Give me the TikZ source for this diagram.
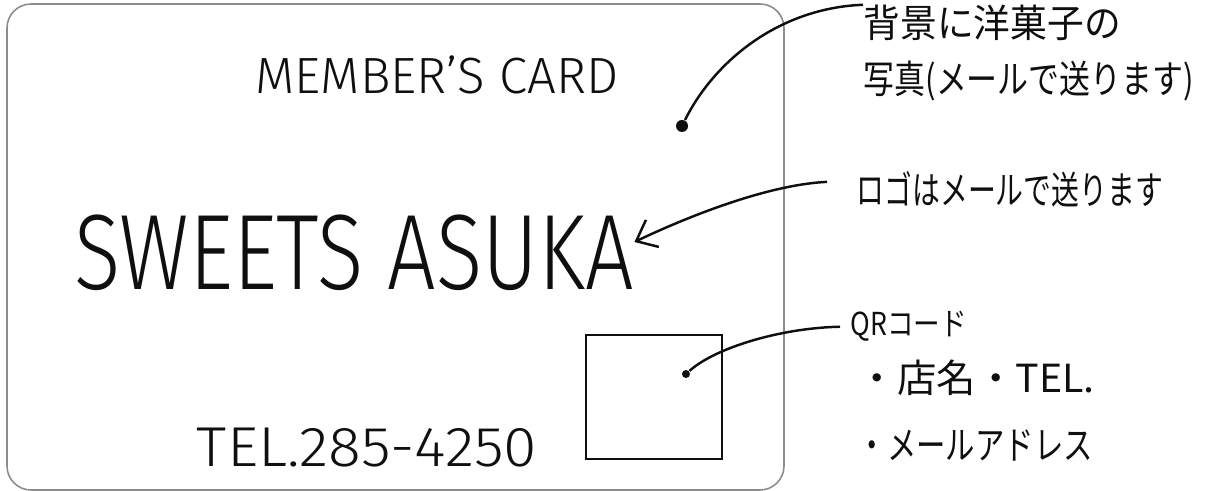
\documentclass[tikz,border=0pt]{standalone}
\usepackage{fontspec}
\usepackage{tikz}
\usetikzlibrary{arrows.meta,positioning,calc}
\setmainfont{Noto Sans CJK JP}
\newfontfamily\handfont{Fira Sans Light}
\definecolor{cardgray}{RGB}{140,140,140}
\definecolor{ink}{RGB}{15,15,15}
\newcommand{\squeeze}[2]{\scalebox{#1}[1]{#2}}

\begin{document}
\begin{tikzpicture}[
  x=0.1mm, y=-0.1mm,
  card/.style={draw=cardgray, line width=0.45pt, rounded corners=2.4mm},
  title/.style={inner sep=0pt, text=ink, font=\handfont},
  note/.style={inner sep=0pt, anchor=base west, text=ink},
  pin/.style={draw=ink, line width=0.7pt},
  dot/.style={circle, fill=ink, inner sep=0pt, minimum size=#1},
  qrbox/.style={draw=ink, line width=0.8pt, inner sep=0pt, minimum width=13.6mm, minimum height=12.4mm}]
  \useasboundingbox (0,0) rectangle (1211,491);
  % the card itself
  \draw[card] (7,4) rectangle (784,490);
  \node[title, font=\handfont\fontsize{14.5}{16}\selectfont] (member) at (437,75) {\squeeze{1}{MEMBER’S CARD}};
  \node[title, font=\handfont\fontsize{30.5}{33}\selectfont] (asuka) at (354,253) {\squeeze{0.8}{SWEETS ASUKA}};
  \node[title, font=\handfont\fontsize{16}{18}\selectfont] (tel) at (367,448) {\squeeze{1.08}{TEL.285-4250}};
  \node[qrbox] (qr) at (654,397) {};
  \node[dot=1.2mm] (photodot) at (682,126) {};
  \node[dot=0.8mm] (qrdot) at (686,374) {};
  % notes on the right
  \node[note, font=\fontsize{11}{13}\selectfont] (photo1) at (863,38) {\squeeze{0.95}{背景に洋菓子の}};
  \node[note, font=\fontsize{11}{13}\selectfont] (photo2) at (863,94) {\squeeze{0.8}{写真(メールで送ります)}};
  \node[note, font=\fontsize{11}{13}\selectfont] (logo) at (856,205) {\squeeze{0.72}{ロゴはメールで送ります}};
  \node[note, font=\fontsize{9}{11}\selectfont] (qrnote) at (850,336) {\squeeze{0.84}{QRコード}};
  \node[note, font=\fontsize{11}{13}\selectfont] (item1) at (857,393) {\squeeze{1.02}{・店名・TEL.}};
  \node[note, font=\fontsize{11}{13}\selectfont] (item2) at (857,460) {\squeeze{0.76}{・メールアドレス}};
  \coordinate (logotip) at ($(asuka.east)+(0,-11)$);
  \draw[pin] (photodot) .. controls (715,60) and (780,8) .. (photo1.north west);
  \draw[pin, -{Straight Barb[length=1.8mm, width=3mm]}] ([xshift=-2.9mm, yshift=0.8mm]logo.west) .. controls (760,185) and (670,225) .. (logotip);
  \draw[pin] (qrdot) .. controls (715,348) and (780,328) .. ([xshift=-1mm]qrnote.west);
\end{tikzpicture}
\end{document}
